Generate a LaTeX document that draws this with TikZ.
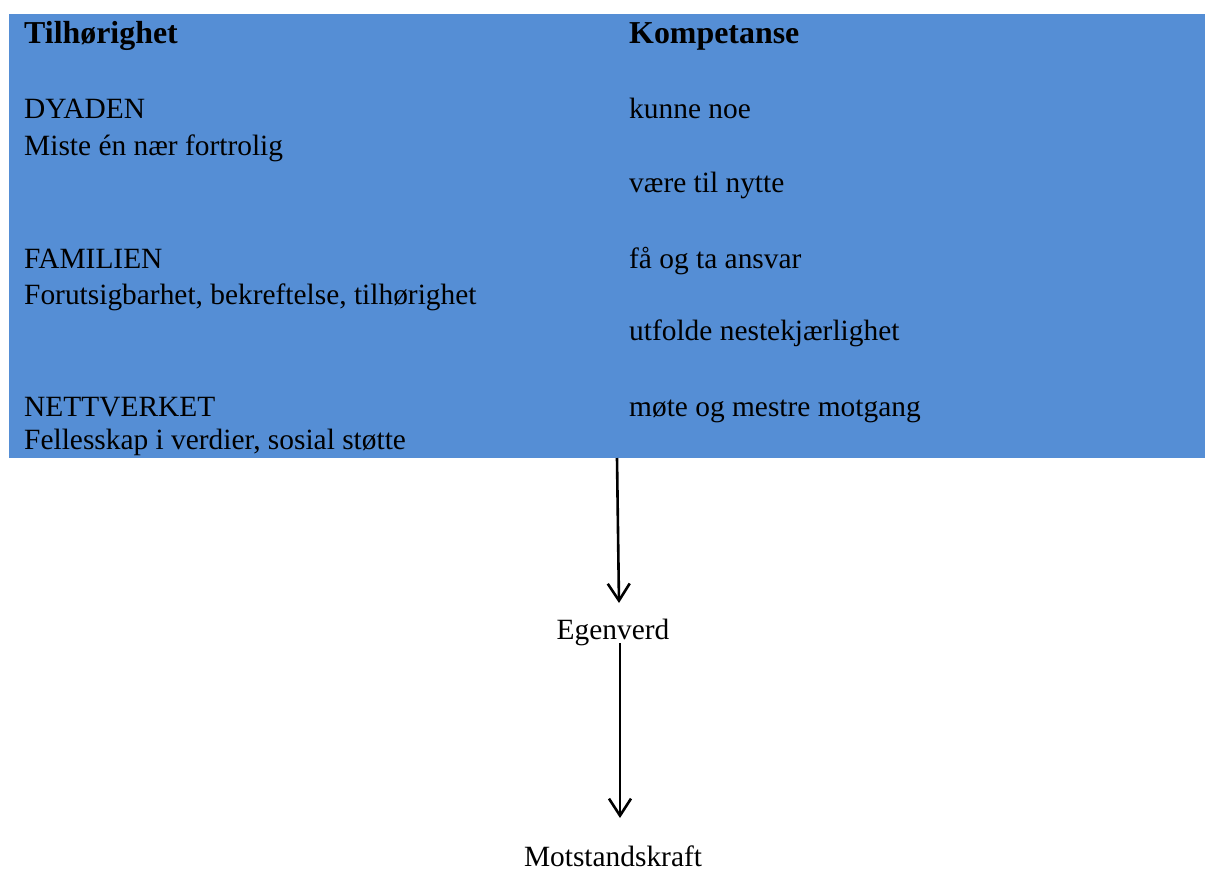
\documentclass[tikz,border=0pt]{standalone}
\usepackage{fontspec}
\setmainfont{Liberation Serif}
\usetikzlibrary{arrows.meta}
\definecolor{panelblue}{RGB}{85,142,213}
\tikzset{
  txt/.style={anchor=base west, inner sep=0pt, font=\fontsize{29.4}{35}\selectfont},
  head/.style={txt, font=\fontsize{31.9}{38}\selectfont\bfseries},
  ctr/.style={anchor=base, inner sep=0pt, font=\fontsize{29.4}{35}\selectfont},
  flow/.style={line width=2.6pt, -{Straight Barb[length=17pt, width=22pt, line width=2.6pt]}}
}
\begin{document}
\begin{tikzpicture}[x=1pt, y=-1pt]
  \useasboundingbox (0,0) rectangle (1205,870);
  % blue panel
  \fill[panelblue] (9,14) rectangle (1205,458);
  \coordinate (panelout) at (617,458);
  % left column
  \node[head] (tilh) at (24,43) {Tilhørighet};
  \node[txt] (dyad) at (24,118) {DYADEN};
  \node[txt] (dyadt) at (24,155) {Miste én nær fortrolig};
  \node[txt] (fam) at (24,268) {FAMILIEN};
  \node[txt] (famt) at (24,304) {Forutsigbarhet, bekreftelse, tilhørighet};
  \node[txt] (nett) at (24,416) {NETTVERKET};
  \node[txt] (nettt) at (24,449) {Fellesskap i verdier, sosial støtte};
  % right column
  \node[head] (komp) at (629,43) {Kompetanse};
  \node[txt] (k1) at (629,118) {kunne noe};
  \node[txt] (k2) at (629,192) {være til nytte};
  \node[txt] (k3) at (629,268) {få og ta ansvar};
  \node[txt] (k4) at (629,340) {utfolde nestekjærlighet};
  \node[txt] (k5) at (629,416) {møte og mestre motgang};
  % outcome chain
  \node[ctr] (egen) at (613,639) {Egenverd};
  \node[ctr] (mot) at (613,866) {Motstandskraft};
  \coordinate (e1) at (619,603);
  \coordinate (s2) at (620,643);
  \coordinate (e2) at (620,818);
  \draw[flow] (panelout) -- (e1);
  \draw[flow] (s2) -- (e2);
\end{tikzpicture}
\end{document}
